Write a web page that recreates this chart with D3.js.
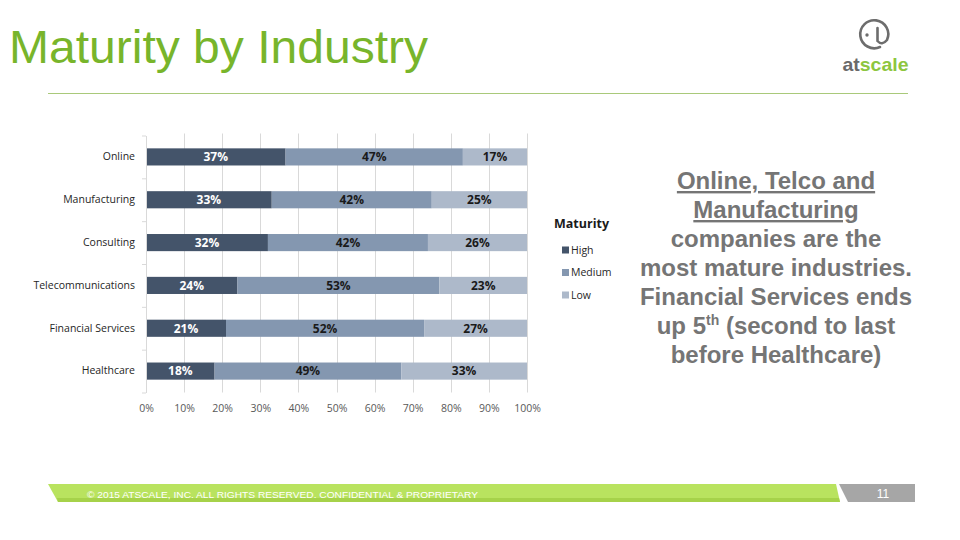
<!DOCTYPE html>
<html>
<head>
<meta charset="utf-8">
<script src="https://cdn.jsdelivr.net/npm/d3@7"></script>
<style>
	body { margin: 0; background: #fff; }
	svg { display: block; }
</style>
</head>
<body>
<svg id="slide" width="960" height="540"></svg>
<script>
var industries = ["Online", "Manufacturing", "Consulting", "Telecommunications", "Financial Services", "Healthcare"];
var high = [37, 33, 32, 24, 21, 18];
var medium = [47, 42, 42, 53, 52, 49];
var low = [17, 25, 26, 23, 27, 33];
var levels = ["High", "Medium", "Low"];
var levelColors = ["#44546a", "#8497b0", "#adb9ca"];
var xTicks = [0, 0.1, 0.2, 0.3, 0.4, 0.5, 0.6, 0.7, 0.8, 0.9, 1];

var noteLines = [
	{t: "Online, Telco and", u: true},
	{t: "Manufacturing", u: true},
	{t: "companies are the", u: false},
	{t: "most mature industries.", u: false},
	{t: "Financial Services ends", u: false},
	{t: "up 5|th| (second to last", u: false},
	{t: "before Healthcare)", u: false}
];

var svg = d3.select("#slide");

// title + rule
svg.append("text")
	.attr("x", 9).attr("y", 63)
	.attr("font-family", "Liberation Sans, Arial, sans-serif")
	.attr("font-size", 46)
	.attr("textLength", 419)
	.attr("lengthAdjust", "spacingAndGlyphs")
	.attr("fill", "#78b52b")
	.text("Maturity by Industry");

svg.append("line")
	.attr("x1", 48).attr("x2", 908)
	.attr("y1", 93.5).attr("y2", 93.5)
	.attr("stroke", "#a9c97a").attr("stroke-width", 1);

// logo
svg.append("path")
	.attr("d", "M880,47 A14,14 0 1 1 887,40 Q882,46 877.5,41 L877.5,28")
	.attr("fill", "none")
	.attr("stroke", "#6d6d6d")
	.attr("stroke-width", 2.6)
	.attr("stroke-linecap", "round");
svg.append("circle").attr("cx", 867).attr("cy", 35).attr("r", 1.7).attr("fill", "#6d6d6d");
var lt = svg.append("text")
	.attr("x", 875.5).attr("y", 71)
	.attr("text-anchor", "middle")
	.attr("font-family", "Liberation Sans, Arial, sans-serif")
	.attr("font-weight", "bold")
	.attr("font-size", 19)
	.attr("textLength", 66)
	.attr("lengthAdjust", "spacingAndGlyphs");
lt.append("tspan").attr("fill", "#6a6a6a").text("at");
lt.append("tspan").attr("fill", "#8dc63f").text("scale");

// chart
var margin = {top: 135.5, left: 146},
	width = 381,
	height = 257;

var data = industries.map(function(d, i) {
	return {industry: d, High: high[i], Medium: medium[i], Low: low[i]};
});

var stack = d3.stack().keys(levels).offset(d3.stackOffsetExpand);
var series = stack(data);

var x = d3.scaleLinear().domain([0, 1]).range([0, width]);
var y = d3.scaleBand().domain(industries).range([0, height]).paddingInner(0.6).paddingOuter(0.3);
var yb = d3.scaleBand().domain(industries).range([0, height]);
var color = d3.scaleOrdinal().domain(levels).range(levelColors);

var g = svg.append("g")
	.attr("transform", "translate(" + margin.left + "," + margin.top + ")");

g.append("g")
	.selectAll("line")
	.data(xTicks.slice(1))
	.enter().append("line")
	.attr("x1", function(d) { return Math.round(x(d)) + 0.5; })
	.attr("x2", function(d) { return Math.round(x(d)) + 0.5; })
	.attr("y1", -2).attr("y2", height)
	.attr("stroke", "#d9d9d9");

var layer = g.selectAll(".layer")
	.data(series)
	.enter().append("g")
	.attr("class", "layer")
	.attr("fill", function(d) { return color(d.key); });

layer.selectAll("rect")
	.data(function(d) { return d; })
	.enter().append("rect")
	.attr("x", function(d) { return x(d[0]); })
	.attr("y", function(d) { return y(d.data.industry); })
	.attr("width", function(d) { return x(d[1]) - x(d[0]); })
	.attr("height", y.bandwidth());

layer.each(function(s) {
	d3.select(this).selectAll("text")
		.data(s)
		.enter().append("text")
		.attr("x", function(d) { return (x(d[0]) + x(d[1])) / 2; })
		.attr("y", function(d) { return y(d.data.industry) + y.bandwidth() / 2; })
		.attr("dy", "0.36em")
		.attr("text-anchor", "middle")
		.attr("font-family", "Open Sans, DejaVu Sans, sans-serif")
		.attr("font-weight", "bold")
		.attr("font-size", 12)
		.attr("fill", s.key === "High" ? "#ffffff" : "#1a1a1a")
		.text(function(d) { return d.data[s.key] + "%"; });
});

// y axis
var yAxis = g.append("g")
	.call(d3.axisLeft(yb).tickSize(0).tickPadding(11));
yAxis.select(".domain").attr("stroke", "#d9d9d9");
yAxis.selectAll("text")
	.attr("font-family", "Open Sans, DejaVu Sans, sans-serif")
	.attr("font-size", 10.5)
	.attr("fill", "#262626");
yAxis.append("g").selectAll("line")
	.data(industries.concat(["end"]))
	.enter().append("line")
	.attr("x1", -4).attr("x2", 0)
	.attr("y1", function(d, i) { return i * yb.step() + 0.5; })
	.attr("y2", function(d, i) { return i * yb.step() + 0.5; })
	.attr("stroke", "#d9d9d9");

// x axis
var xAxis = g.append("g")
	.attr("transform", "translate(0," + height + ")")
	.call(d3.axisBottom(x).tickValues(xTicks).tickFormat(d3.format(".0%")).tickSize(0).tickPadding(12));
xAxis.select(".domain").remove();
xAxis.selectAll("text")
	.attr("font-family", "Open Sans, DejaVu Sans, sans-serif")
	.attr("font-size", 10.5)
	.attr("fill", "#595959");

// legend
var legend = svg.append("g").attr("transform", "translate(554,0)");
legend.append("text")
	.attr("x", 0).attr("y", 228)
	.attr("font-family", "Open Sans, DejaVu Sans, sans-serif")
	.attr("font-weight", "bold")
	.attr("font-size", 12.5)
	.attr("fill", "#1a1a1a")
	.text("Maturity");
var li = legend.selectAll(".li")
	.data(levels)
	.enter().append("g")
	.attr("class", "li")
	.attr("transform", function(d, i) { return "translate(8," + (250 + i * 22.5) + ")"; });
li.append("rect")
	.attr("x", 0).attr("y", -3.5).attr("width", 7).attr("height", 7)
	.attr("fill", function(d) { return color(d); });
li.append("text")
	.attr("x", 9).attr("dy", "0.35em")
	.attr("font-family", "Open Sans, DejaVu Sans, sans-serif")
	.attr("font-size", 10.5)
	.attr("fill", "#262626")
	.text(function(d) { return d; });

// note
var note = svg.append("g");
noteLines.forEach(function(l, i) {
	var t = note.append("text")
		.attr("x", 776).attr("y", 189 + i * 29)
		.attr("text-anchor", "middle")
		.attr("font-family", "Liberation Sans, Arial, sans-serif")
		.attr("font-weight", "bold")
		.attr("font-size", 24)
		.attr("fill", "#757575")
		.attr("text-decoration", l.u ? "underline" : null);
	var parts = l.t.split("|");
	parts.forEach(function(p, j) {
		if (j === 1) {
			t.append("tspan").attr("font-size", 14).attr("dy", -9).text(p);
		} else if (j === 2) {
			t.append("tspan").attr("dy", 9).text(p);
		} else {
			t.append("tspan").text(p);
		}
	});
});

// footer
svg.append("path")
	.attr("d", "M48,484 L836,484 L840,502 L58,502 Z")
	.attr("fill", "#b9e35f");
svg.append("path")
	.attr("d", "M57,498 L839,498 L840,502 L58,502 Z")
	.attr("fill", "#a6d24a");
svg.append("path")
	.attr("d", "M839,484 L915,484 L915,502 L848,502 Z")
	.attr("fill", "#a6a6a6");
svg.append("text")
	.attr("x", 87).attr("y", 497.5)
	.attr("font-family", "Liberation Sans, Arial, sans-serif")
	.attr("font-size", 9.5)
	.attr("textLength", 391)
	.attr("lengthAdjust", "spacingAndGlyphs")
	.attr("fill", "#ffffff")
	.text("\u00a9 2015 ATSCALE, INC. ALL RIGHTS RESERVED. CONFIDENTIAL & PROPRIETARY");
svg.append("text")
	.attr("x", 883).attr("y", 498)
	.attr("text-anchor", "middle")
	.attr("font-family", "Liberation Sans, Arial, sans-serif")
	.attr("font-size", 12)
	.attr("fill", "#ffffff")
	.text("11");
</script>
</body>
</html>
